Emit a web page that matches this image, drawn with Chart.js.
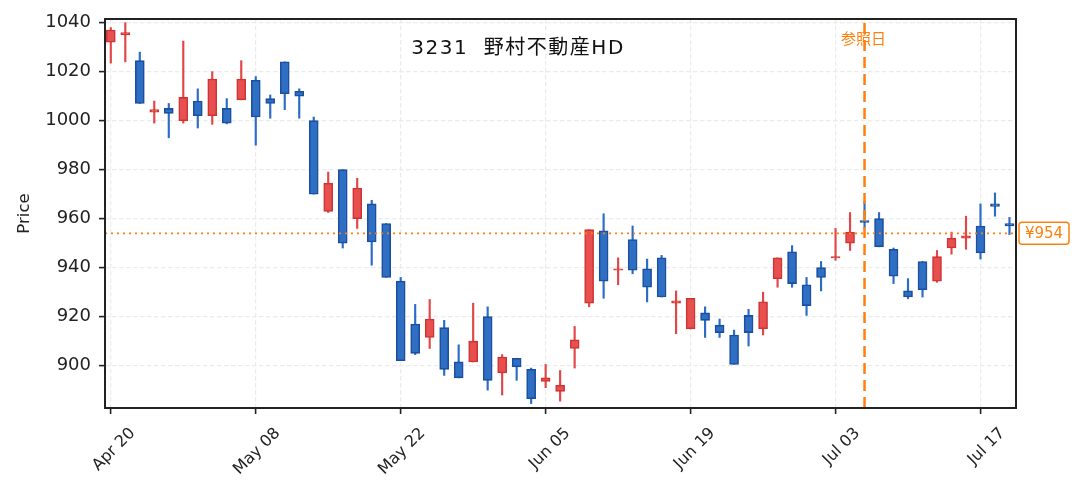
<!DOCTYPE html>
<html>
<head>
<meta charset="utf-8">
<script src="https://cdn.jsdelivr.net/npm/chart.js@4.4.1/dist/chart.umd.min.js"></script>
<style>
  html, body { margin: 0; padding: 0; background: #fff; }
</style>
</head>
<body>
<canvas id="chart" width="1081" height="497"></canvas>
<script>
// one candle per trading day, x = trading day index
const tickLabels = ['Apr 20', 'May 08', 'May 22', 'Jun 05', 'Jun 19', 'Jul 03', 'Jul 17'];
const tickStep = 10;

const opens  = [1032, 1035, 1024.5, 1003.5, 1005, 1000, 1008, 1002, 1005, 1008.5,
                1016.5, 1009, 1024, 1012, 1000, 963, 980, 960, 966, 958,
                934.5, 917, 911.5, 915.5, 901.5, 901.5, 920, 897, 903, 898.5,
                893.5, 889.5, 907, 925.5, 955, 939, 951.5, 939.5, 944, 925.5,
                915, 921.5, 916.5, 912.5, 920.5, 915, 935.5, 946.5, 933, 940,
                944, 950, 959.2, 960, 947.5, 930.5, 942.5, 934.5, 948, 952,
                957, 966, 958];
const highs  = [1038, 1040, 1028, 1008, 1007, 1032.5, 1013, 1020, 1009, 1024.5,
                1018, 1010.5, 1024, 1013, 1001.5, 979, 980, 976.5, 967.5, 958,
                936, 925, 927, 918.5, 908.5, 925.5, 924, 904.5, 903, 899,
                900.5, 898, 916, 955.5, 962, 944, 957, 943.5, 945, 930.5,
                927.5, 924, 919, 914.5, 923, 930, 944, 949, 936, 942.5,
                956, 962.5, 967, 962.5, 948, 935.5, 942.5, 947, 954.5, 961,
                966, 970.5, 960.5];
const lows   = [1023.5, 1024, 1007, 999, 993, 999, 997, 998.5, 998.7, 1008.5,
                990, 1001, 1004.5, 1001, 970, 962.5, 948, 956, 941, 936,
                902, 904.5, 907, 896, 895, 901.5, 890, 888, 894, 884.5,
                891, 885.5, 899, 924, 927.5, 933, 937.5, 926, 928, 913,
                915, 911.5, 911.5, 900.5, 908, 912.5, 932, 932, 920.5, 930.5,
                943, 947, 956, 948.5, 933.5, 927.3, 928, 934, 945.5, 947.5,
                943.5, 961, 953.5];
const closes = [1037, 1036, 1007, 1004.5, 1003, 1009.5, 1002, 1017, 999, 1017,
                1001.5, 1007, 1011, 1010, 970, 974.5, 950, 972.5, 950.5, 936,
                902, 905, 919, 898.5, 895, 910, 894, 903.5, 899.5, 886.5,
                895, 892, 910.5, 955.5, 934.5, 939.5, 939, 932, 928, 926.5,
                927.5, 918.5, 913.5, 900.5, 913.5, 926, 944, 933.5, 924.5, 936,
                944.5, 954.5, 958.5, 948.5, 936.5, 928, 931, 944.5, 952, 953,
                946, 965, 957];

const refIndex = 52;      // 参照日
const refPrice = 954;
const chartTitle = '3231  野村不動産HD';

const xMin = -0.4, xMax = 62.45;
const yMin = 882.7, yMax = 1041.5;

const FONT = '"DejaVu Sans", "Noto Sans CJK JP", sans-serif';
const ORANGE = '#ff7f0e';
const RED = '#e8504f', RED_EDGE = '#cf3535', RED_WICK = '#e24646';
const BLUE = '#2e6fc4', BLUE_EDGE = '#1b4f9f', BLUE_WICK = '#2b6dc6';

const up = opens.map((o, i) => closes[i] >= o);

Chart.defaults.font.family = FONT;
Chart.defaults.color = '#222';

const gridOpts = { color: '#ebebeb', lineWidth: 1.2, tickColor: '#222', tickLength: 6, tickWidth: 1.6, offset: false };

const overlay = {
  id: 'overlay',
  afterDraw(chart) {
    const { ctx, chartArea: a, scales: { x, y } } = chart;
    ctx.save();
    ctx.strokeStyle = '#222';
    ctx.lineWidth = 2;
    ctx.strokeRect(a.left, a.top, a.right - a.left, a.bottom - a.top);

    ctx.fillStyle = '#111';
    ctx.font = '20px ' + FONT;
    ctx.letterSpacing = '1.5px';
    ctx.textAlign = 'center';
    ctx.textBaseline = 'alphabetic';
    ctx.fillText(chartTitle, 518, 54);
    ctx.letterSpacing = '0px';

    ctx.fillStyle = ORANGE;
    ctx.font = '15px "Noto Sans CJK JP", sans-serif';
    ctx.textBaseline = 'middle';
    ctx.fillText('参照日', x.getPixelForValue(refIndex) - 1, 38);

    // price tag on the right
    const py = y.getPixelForValue(refPrice);
    const bx = a.right + 3, bw = 50, bh = 22;
    ctx.beginPath();
    ctx.roundRect(bx, py - bh / 2, bw, bh, 3);
    ctx.fillStyle = '#fff';
    ctx.fill();
    ctx.strokeStyle = ORANGE;
    ctx.lineWidth = 1.5;
    ctx.stroke();
    ctx.fillStyle = ORANGE;
    ctx.font = '15px ' + FONT;
    ctx.fillText('¥' + refPrice, bx + bw / 2, py + 0.5);
    ctx.restore();
  }
};

new Chart(document.getElementById('chart'), {
  type: 'bar',
  data: {
    datasets: [
      {
        type: 'line',
        data: [{ x: xMin, y: refPrice }, { x: xMax, y: refPrice }],
        borderColor: ORANGE, borderWidth: 1.8, borderDash: [2, 4],
        pointRadius: 0, order: 0
      },
      {
        type: 'line',
        data: [{ x: refIndex, y: yMin }, { x: refIndex, y: yMax }],
        borderColor: ORANGE, borderWidth: 2.5, borderDash: [11, 6],
        pointRadius: 0, order: 0
      },
      {
        data: opens.map((o, i) => ({ x: i, y: [o, closes[i]] })),
        backgroundColor: up.map(u => u ? RED : BLUE),
        borderColor: up.map(u => u ? RED_EDGE : BLUE_EDGE),
        borderWidth: 1.6, borderSkipped: false,
        barThickness: 9, grouped: false, order: 1
      },
      {
        data: lows.map((l, i) => ({ x: i, y: [l, highs[i]] })),
        backgroundColor: up.map(u => u ? RED_WICK : BLUE_WICK),
        borderWidth: 0,
        barThickness: 1.5, grouped: false, order: 2
      }
    ]
  },
  options: {
    responsive: false,
    animation: false,
    layout: { padding: { top: 19, right: 65, bottom: 0, left: 0 } },
    plugins: { legend: { display: false }, tooltip: { enabled: false } },
    scales: {
      x: {
        type: 'linear', min: xMin, max: xMax, offset: false,
        afterBuildTicks: s => { s.ticks = tickLabels.map((_, k) => ({ value: k * tickStep })); },
        afterFit: s => { s.height = 89; },
        ticks: {
          callback: v => tickLabels[Math.round(v / tickStep)],
          autoSkip: false, minRotation: 45, maxRotation: 45,
          font: { size: 16 }, padding: 10, labelOffset: 22
        },
        grid: gridOpts,
        border: { display: false, dash: [4.5, 2.5] }
      },
      y: {
        min: yMin, max: yMax,
        afterFit: s => { s.width = 105; },
        ticks: { stepSize: 20, includeBounds: false, font: { size: 18 }, padding: 8, callback: v => String(v) },
        title: { display: true, text: 'Price', font: { size: 16.5 }, padding: { top: 15 } },
        grid: gridOpts,
        border: { display: false, dash: [4.5, 2.5] }
      }
    }
  },
  plugins: [overlay]
});
</script>
</body>
</html>
